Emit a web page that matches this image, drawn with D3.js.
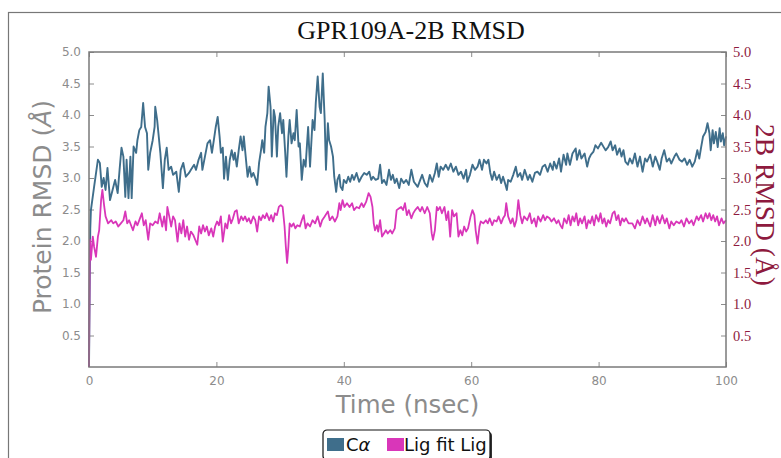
<!DOCTYPE html>
<html>
<head>
<meta charset="utf-8">
<script src="https://cdn.jsdelivr.net/npm/d3@7"></script>
<style>
  body { margin: 0; background: #fff; }
  svg { display: block; }
</style>
</head>
<body>
<svg id="chart"></svg>
<script>
// time (ns) and RMSD (Å)
var caTime = [0, 0.2, 0.3, 0.8, 1.4, 1.7, 2.0, 2.3, 2.6, 2.9, 3.3, 3.7, 4.1, 4.5, 4.8, 5.1, 5.4, 5.7, 5.9, 6.2, 6.5, 6.7, 7.0, 7.4, 7.6, 7.9, 8.2, 8.5, 8.8, 9.1, 9.3, 9.6, 10.0, 10.3, 10.4, 10.7, 10.9, 11.2, 11.6, 11.9, 12.2, 12.5, 12.9, 13.2, 13.7, 14.1, 14.4, 14.8, 15.2, 15.7, 16.0, 16.5, 16.8,
  17.2, 17.6, 17.8, 18.2, 18.6, 19.0, 19.3, 19.6, 19.9, 20.2, 20.5, 20.7, 21.0, 21.2, 21.5, 21.8, 22.1, 22.4, 22.7, 22.9, 23.2, 23.5, 23.8, 24.1, 24.3, 24.6, 24.9, 25.2, 25.5, 25.8, 26.2, 26.4, 26.7, 27.0, 27.2, 27.5, 27.7, 28.0, 28.2, 28.5, 28.7, 29.0, 29.2, 29.5, 29.7, 30.0, 30.3, 30.5, 30.8, 31.0, 31.3, 31.5, 31.8, 32.1, 32.3, 32.6, 32.9, 33.1, 33.4, 33.7, 34.0,
  34.4, 34.7, 35.1, 35.4, 35.6, 35.9, 36.2, 36.4, 36.7, 37.0, 37.2, 37.5, 37.7, 38.0, 38.3, 38.5, 38.8, 39.0, 39.3, 39.5, 39.8, 40.0, 40.4, 40.7, 41.0, 41.3, 41.6, 42.0, 42.4, 42.8, 43.2, 43.6, 44.0, 44.3, 44.6, 45.0, 45.4, 45.7, 46.0, 46.3, 46.7, 47.1, 47.4, 47.7, 48.0, 48.3, 48.7, 49.0, 49.4, 49.8, 50.2, 50.6, 51.0,
  51.6, 52.0, 52.3, 52.7, 53.1, 53.5, 53.9, 54.3, 54.6, 54.9, 55.2, 55.6, 56.0, 56.4, 56.8, 57.2, 57.6, 58.0, 58.4, 58.8, 59.2, 59.4, 59.8, 60.2, 60.6, 61.0, 61.3, 61.7, 62.0, 62.4, 62.7, 63.0, 63.3, 63.6, 64.0, 64.4, 64.7, 65.0, 65.3, 65.6, 65.8, 66.2, 66.6, 67.0, 67.3, 67.7, 68.0,
  68.4, 68.9, 69.2, 69.6, 70.0, 70.4, 70.8, 71.2, 71.6, 72.0, 72.4, 72.8, 73.0, 73.4, 73.8, 74.1, 74.5, 74.9, 75.1, 75.5, 75.9, 76.4, 76.6, 77.0, 77.3, 77.8, 78.2, 78.5, 78.8, 79.2, 79.5, 79.9, 80.4, 80.8, 81.1, 81.5, 81.9, 82.2, 82.6, 82.9, 83.3, 83.6, 83.9, 84.2, 84.6,
  84.9, 85.3, 85.7, 86.1, 86.5, 86.9, 87.3, 87.6, 88.1, 88.5, 88.9, 89.2, 89.6, 89.9, 90.3, 90.7, 91.1, 91.4, 91.9, 92.2, 92.7, 93.1, 93.5, 93.9, 94.3, 94.7, 95.1, 95.5, 95.8, 96.1, 96.4, 96.8, 97.1, 97.4, 97.6, 97.9, 98.1, 98.4, 98.7, 99.0, 99.2, 99.5, 99.7, 100.0];
var caRmsd = [0, 2.2, 2.49, 2.86, 3.29, 3.24, 2.86, 3.0, 2.81, 3.16, 2.65, 2.81, 2.97, 2.76, 3.13, 3.48, 3.34, 2.70, 3.29, 2.68, 3.34, 2.68, 3.50, 3.40, 3.60, 3.76, 3.81, 4.19, 3.81, 3.71, 3.13, 3.40, 3.60, 3.81, 4.13, 3.92, 3.71, 3.40, 2.84, 3.29, 3.48, 3.13, 3.18, 3.05, 3.10, 2.78, 3.13, 3.24, 3.02, 3.08, 3.13, 3.21, 3.13,
  3.29, 3.40, 3.13, 3.34, 3.55, 3.60, 3.40, 3.60, 3.81, 3.97, 3.66, 3.40, 3.48, 2.99, 3.34, 2.97, 3.29, 3.44, 3.29, 3.40, 3.18, 3.44, 3.66, 3.44, 3.66, 3.34, 3.02, 3.18, 3.02, 3.08, 2.97, 2.89, 3.24, 3.44, 3.60, 3.40, 3.81, 4.03, 4.45, 4.13, 3.34, 4.08, 3.97, 3.34, 3.81, 4.03, 3.71, 3.92, 3.40, 3.02, 3.66, 3.92, 3.55, 3.71, 3.60, 4.08, 3.50, 3.55, 2.97, 3.29, 3.18,
  3.81, 3.18, 3.92, 3.76, 4.19, 4.61, 4.13, 4.03, 4.66, 3.92, 3.13, 3.87, 3.60, 3.50, 3.34, 3.02, 2.78, 2.97, 3.05, 2.86, 2.81, 2.97, 2.92, 3.02, 2.94, 3.05, 2.97, 3.08, 2.94, 3.02, 3.08, 3.05, 3.10, 2.97, 3.02, 2.97, 2.99, 3.21, 2.92, 2.97, 2.89, 3.13, 2.97, 3.05, 2.92, 2.99, 2.84, 2.99, 2.92, 2.97, 2.89, 3.13, 2.94,
  2.86, 2.97, 3.05, 2.92, 2.86, 3.05, 2.94, 3.08, 3.23, 3.02, 3.18, 3.13, 3.21, 3.13, 3.23, 3.10, 3.18, 3.05, 3.10, 2.99, 3.13, 2.94, 3.05, 3.21, 3.13, 3.18, 3.29, 3.13, 3.29, 3.23, 3.29, 3.08, 2.97, 3.10, 2.97, 3.05, 2.92, 3.02, 2.92, 2.81, 2.97, 2.94, 3.05, 3.18, 3.02, 3.08, 2.97,
  3.13, 2.97, 3.05, 2.94, 3.08, 3.10, 3.05, 3.18, 3.21, 3.10, 3.23, 3.13, 3.26, 3.15, 3.31, 3.10, 3.37, 3.21, 3.39, 3.21, 3.39, 3.47, 3.29, 3.44, 3.31, 3.39, 3.18, 3.31, 3.37, 3.42, 3.52, 3.47, 3.56, 3.49, 3.44, 3.49, 3.58, 3.44, 3.52, 3.37, 3.47, 3.34, 3.44, 3.26, 3.21,
  3.31, 3.23, 3.39, 3.18, 3.34, 3.10, 3.31, 3.26, 3.37, 3.18, 3.34, 3.26, 3.13, 3.31, 3.44, 3.26, 3.31, 3.23, 3.34, 3.39, 3.29, 3.26, 3.31, 3.21, 3.29, 3.18, 3.26, 3.44, 3.31, 3.49, 3.66, 3.73, 3.87, 3.71, 3.44, 3.76, 3.55, 3.73, 3.49, 3.79, 3.58, 3.71, 3.52, 3.66];

var ligTime = [0, 0.1, 0.15, 0.3, 0.6, 0.8, 1.1, 1.4, 1.6, 1.9, 2.1, 2.4, 2.6, 3.0, 3.5, 3.8, 4.2, 4.6, 5.0, 5.4, 5.7, 6.0, 6.3, 6.6, 6.9, 7.3, 7.6, 8.0, 8.3, 8.6, 8.9, 9.3, 9.6, 10.0, 10.4, 10.8, 11.1, 11.5, 11.8, 12.1, 12.3, 12.6, 12.9, 13.2, 13.5, 13.9, 14.2, 14.5, 14.8, 15.1, 15.4, 15.7, 16.0, 16.4,
  17.0, 17.3, 17.6, 17.9, 18.2, 18.5, 18.8, 19.2, 19.5, 19.8, 20.1, 20.4, 20.7, 21.0, 21.4, 21.7, 22.0, 22.3, 22.6, 22.9, 23.2, 23.5, 23.9, 24.2, 24.5, 24.8, 25.1, 25.4, 25.8, 26.1, 26.4, 26.7, 27.0, 27.3, 27.6, 27.9, 28.3, 28.6, 28.9, 29.2, 29.5, 29.8, 30.1, 30.4, 30.7, 30.9, 31.1, 31.3, 31.5, 31.8, 32.1, 32.4, 32.7, 33.1, 33.4, 33.7, 34.0,
  34.3, 34.7, 35.1, 35.5, 35.9, 36.3, 36.6, 37.0, 37.5, 37.8, 38.2, 38.6, 39.0, 39.3, 39.5, 39.8, 40.1, 40.5, 40.9, 41.3, 41.6, 42.0, 42.4, 42.8, 43.1, 43.5, 43.9, 44.2, 44.5, 44.7, 44.9, 45.2, 45.4, 45.7, 46.0, 46.3, 46.6, 46.9, 47.3, 47.6, 48.0, 48.3, 48.7, 49.0, 49.3, 49.6, 49.9, 50.2, 50.6, 50.9, 51.2,
  51.6, 52.0, 52.3, 52.7, 53.1, 53.5, 53.8, 54.0, 54.3, 54.6, 54.8, 55.1, 55.4, 55.8, 56.1, 56.4, 56.7, 57.0, 57.3, 57.7, 58.0, 58.3, 58.6, 58.9, 59.2, 59.5, 59.9, 60.2, 60.5, 60.7, 61.0, 61.3, 61.5, 61.9, 62.3, 62.6, 62.9, 63.3, 63.6, 64.0, 64.3, 64.7, 65.0, 65.3, 65.5, 65.8, 66.2, 66.5, 66.8, 67.1, 67.4, 67.7, 68.0, 68.3,
  68.8, 69.2, 69.5, 69.9, 70.2, 70.5, 70.9, 71.3, 71.6, 71.9, 72.3, 72.6, 73.0, 73.4, 73.7, 74.0, 74.3, 74.6, 75.0, 75.3, 75.6, 75.9, 76.2, 76.5, 76.8, 77.1, 77.4, 77.8, 78.1, 78.4, 78.7, 79.0, 79.3, 79.6, 80.0, 80.3, 80.6, 80.9, 81.2, 81.5, 81.8, 82.2, 82.5, 82.8, 83.1, 83.4, 83.7, 84.0, 84.3, 84.7,
  85.3, 85.7, 86.1, 86.5, 86.9, 87.3, 87.6, 88.1, 88.5, 88.9, 89.2, 89.6, 90.0, 90.4, 90.7, 91.1, 91.4, 91.8, 92.2, 92.7, 93.0, 93.4, 93.8, 94.2, 94.6, 94.9, 95.4, 95.7, 96.1, 96.4, 96.8, 97.1, 97.4, 97.7, 98.0, 98.3, 98.6, 98.9, 99.3, 99.6, 100.0];
var ligRmsd = [0, 1.6, 2.02, 1.70, 2.07, 1.91, 1.75, 2.07, 2.17, 2.65, 2.81, 2.54, 2.39, 2.28, 2.33, 2.28, 2.31, 2.23, 2.28, 2.33, 2.47, 2.28, 2.33, 2.25, 2.17, 2.31, 2.25, 2.36, 2.44, 2.25, 2.33, 2.02, 2.28, 2.25, 2.31, 2.28, 2.44, 2.23, 2.39, 2.17, 2.54, 2.39, 2.23, 2.39, 2.33, 1.99, 2.28, 2.12, 2.33, 2.07, 2.23, 2.02, 2.15, 2.09,
  1.94, 2.23, 2.12, 2.25, 2.15, 2.23, 2.09, 2.20, 2.07, 2.23, 2.31, 2.25, 2.39, 1.99, 2.28, 2.20, 2.41, 2.28, 2.36, 2.47, 2.49, 2.28, 2.39, 2.33, 2.39, 2.31, 2.36, 2.28, 2.39, 2.33, 2.15, 2.39, 2.33, 2.41, 2.36, 2.44, 2.33, 2.41, 2.31, 2.44, 2.41, 2.54, 2.57, 2.54, 2.23, 1.91, 1.65, 1.91, 2.28, 2.23, 2.28, 2.20, 2.25, 2.23, 2.33, 2.41, 2.20,
  2.28, 2.23, 2.33, 2.28, 2.39, 2.23, 2.33, 2.39, 2.47, 2.33, 2.39, 2.31, 2.39, 2.60, 2.49, 2.65, 2.54, 2.60, 2.54, 2.60, 2.49, 2.54, 2.52, 2.60, 2.54, 2.62, 2.76, 2.70, 2.54, 2.28, 2.17, 2.25, 2.15, 2.33, 2.07, 2.12, 2.17, 2.12, 2.17, 2.12, 2.20, 2.49, 2.52, 2.54, 2.49, 2.60, 2.41, 2.49, 2.36, 2.44, 2.49,
  2.54, 2.47, 2.54, 2.44, 2.54, 2.44, 2.12, 2.02, 2.17, 2.54, 2.49, 2.54, 2.44, 2.54, 2.33, 2.47, 2.07, 2.49, 2.39, 2.44, 2.07, 2.17, 2.09, 2.23, 2.15, 2.20, 2.39, 2.49, 2.41, 2.17, 1.96, 2.23, 2.31, 2.28, 2.33, 2.28, 2.36, 2.25, 2.33, 2.31, 2.39, 2.28, 2.36, 2.41, 2.60, 2.39, 2.28, 2.36, 2.23, 2.33, 2.65, 2.41, 2.28, 2.39,
  2.33, 2.44, 2.28, 2.36, 2.23, 2.39, 2.31, 2.41, 2.33, 2.39, 2.36, 2.31, 2.36, 2.28, 2.33, 2.25, 2.20, 2.36, 2.28, 2.41, 2.25, 2.39, 2.31, 2.44, 2.25, 2.36, 2.28, 2.39, 2.20, 2.33, 2.28, 2.39, 2.25, 2.41, 2.31, 2.44, 2.28, 2.36, 2.23, 2.33, 2.28, 2.44, 2.47, 2.33, 2.41, 2.25, 2.36, 2.31, 2.36, 2.28,
  2.28, 2.20, 2.33, 2.25, 2.39, 2.28, 2.36, 2.23, 2.41, 2.25, 2.39, 2.28, 2.41, 2.28, 2.36, 2.20, 2.31, 2.25, 2.31, 2.28, 2.33, 2.23, 2.36, 2.28, 2.33, 2.25, 2.39, 2.33, 2.41, 2.31, 2.44, 2.36, 2.44, 2.33, 2.41, 2.31, 2.39, 2.25, 2.36, 2.28, 2.33];

var xTicks = [0, 20, 40, 60, 80, 100];
var yTicks = [0.5, 1.0, 1.5, 2.0, 2.5, 3.0, 3.5, 4.0, 4.5, 5.0];
var seriesNames = ["C\u03b1", "Lig fit Lig"];

var W = 781, H = 458;
var margin = {top: 52, right: 55, bottom: 91, left: 89};
var width = W - margin.left - margin.right,
    height = H - margin.top - margin.bottom;

var blue = "#3f6e8b", magenta = "#d936b9", red = "#8e1a3e", gray = "#8c8c8c";

var svg = d3.select("#chart").attr("width", W).attr("height", H);

// outer frame of the figure
svg.append("rect")
    .attr("x", 8.5).attr("y", 12.5)
    .attr("width", W).attr("height", H)
    .attr("fill", "none").attr("stroke", "#777").attr("stroke-width", 1.2);

var g = svg.append("g")
    .attr("transform", "translate(" + margin.left + "," + margin.top + ")");

var xScale = d3.scaleLinear().domain([0, 100]).range([0, width]);
var yScale = d3.scaleLinear().domain([0, 5]).range([height, 0]);

var fmt = d3.format(".1f");

function styleAxis(sel, color, family, size) {
    sel.select(".domain").remove();
    sel.selectAll("line").attr("stroke", gray).attr("stroke-width", 1);
    sel.selectAll("text").attr("fill", color).attr("font-family", family).attr("font-size", size);
}

g.append("g")
    .attr("transform", "translate(0," + height + ")")
    .call(d3.axisBottom(xScale).tickValues(xTicks).tickSize(-5).tickPadding(9))
    .call(styleAxis, gray, "DejaVu Sans", 12);

g.append("g")
    .call(d3.axisTop(xScale).tickValues(xTicks).tickSize(-5).tickFormat(""))
    .call(styleAxis, gray, "DejaVu Sans", 12);

g.append("g")
    .call(d3.axisLeft(yScale).tickValues(yTicks).tickSize(-5).tickPadding(8).tickFormat(fmt))
    .call(styleAxis, gray, "DejaVu Sans", 12);

g.append("g")
    .attr("transform", "translate(" + width + ",0)")
    .call(d3.axisRight(yScale).tickValues(yTicks).tickSize(-5).tickPadding(7).tickFormat(fmt))
    .call(styleAxis, red, "Liberation Serif", 14.5);

var caData = caTime.map(function(t, i) { return {x: t, y: caRmsd[i]}; });
var ligData = ligTime.map(function(t, i) { return {x: t, y: ligRmsd[i]}; });

var line = d3.line()
    .x(function(d) { return xScale(d.x); })
    .y(function(d) { return yScale(d.y); });

g.append("path")
    .datum(caData)
    .attr("d", line)
    .attr("fill", "none")
    .attr("stroke", blue)
    .attr("stroke-width", 1.9)
    .attr("stroke-linejoin", "round");

g.append("path")
    .datum(ligData)
    .attr("d", line)
    .attr("fill", "none")
    .attr("stroke", magenta)
    .attr("stroke-width", 1.8)
    .attr("stroke-linejoin", "round");

// plot frame
g.append("rect")
    .attr("width", width).attr("height", height)
    .attr("fill", "none").attr("stroke", "#7a7a7a").attr("stroke-width", 1.5);

// title
svg.append("text")
    .attr("x", 411).attr("y", 39)
    .attr("text-anchor", "middle")
    .attr("font-family", "Liberation Serif")
    .attr("font-size", 26)
    .attr("fill", "#111")
    .text("GPR109A-2B RMSD");

// x label
svg.append("text")
    .attr("x", margin.left + width / 2).attr("y", 413)
    .attr("text-anchor", "middle")
    .attr("font-family", "DejaVu Sans")
    .attr("font-size", 24.5)
    .attr("fill", gray)
    .text("Time (nsec)");

// left label
var ll = svg.append("text")
    .attr("transform", "translate(51," + 207 + ") rotate(-90)")
    .attr("text-anchor", "middle")
    .attr("font-family", "DejaVu Sans")
    .attr("font-size", 25)
    .attr("fill", gray);
ll.append("tspan").text("Protein RMSD (");
ll.append("tspan").attr("font-style", "italic").text("\u00c5");
ll.append("tspan").text(")");

// right label
svg.append("text")
    .attr("transform", "translate(756," + 205 + ") rotate(90)")
    .attr("text-anchor", "middle")
    .attr("font-family", "Liberation Serif")
    .attr("font-size", 27.5)
    .attr("fill", red)
    .text("2B RMSD (\u00c5)");

// legend
var leg = svg.append("g").attr("transform", "translate(323,430)");
leg.append("rect")
    .attr("x", 2).attr("y", 2).attr("width", 167).attr("height", 30).attr("rx", 4)
    .attr("fill", "#333");
leg.append("rect")
    .attr("width", 167).attr("height", 30).attr("rx", 4)
    .attr("fill", "#fff").attr("stroke", "#111").attr("stroke-width", 1.2);

var items = [{name: seriesNames[0], color: blue, x: 4}, {name: seriesNames[1], color: magenta, x: 64}];
items.forEach(function(it) {
    leg.append("rect")
        .attr("x", it.x).attr("y", 8).attr("width", 17).attr("height", 13)
        .attr("fill", it.color);
});
var t1 = leg.append("text").attr("x", 23).attr("y", 21)
    .attr("font-family", "DejaVu Sans").attr("font-size", 18).attr("fill", "#111");
t1.append("tspan").text("C");
t1.append("tspan").attr("font-style", "italic").text("\u03b1");
leg.append("text").attr("x", 81).attr("y", 21)
    .attr("font-family", "DejaVu Sans").attr("font-size", 18).attr("fill", "#111")
    .text(seriesNames[1]);
</script>
</body>
</html>
